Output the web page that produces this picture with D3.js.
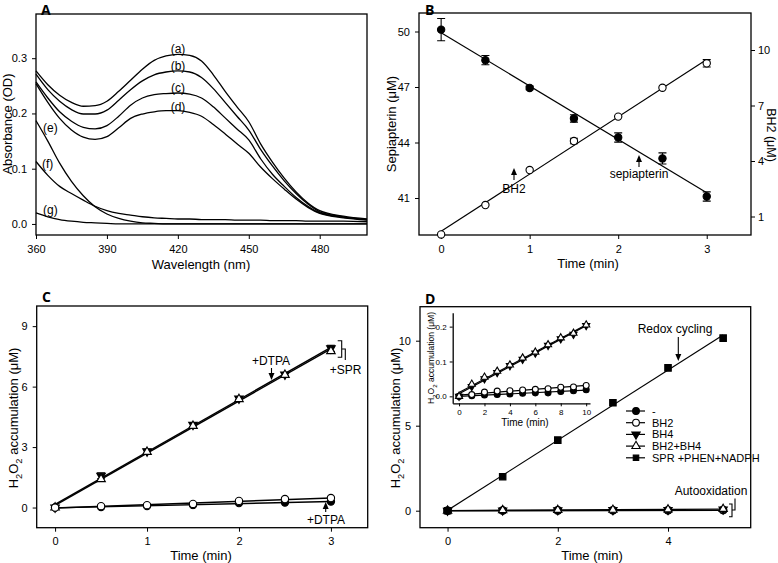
<!DOCTYPE html>
<html>
<head>
<meta charset="utf-8">
<script src="https://cdn.jsdelivr.net/npm/d3@7"></script>
<style>
  body { margin: 0; background: #fff; }
  text { font-family: "Liberation Sans", Arial, sans-serif; fill: #000; }
</style>
</head>
<body>
<script>
// ---- panel A: absorbance spectra ----
var wavelengths = [360, 365, 370, 375, 380, 385, 390, 395, 400, 405, 410, 415, 420, 425, 430, 435, 440, 445, 450, 455, 460, 465, 470, 475, 480, 490, 500];
var specA = [0.277, 0.252, 0.233, 0.220, 0.213, 0.214, 0.222, 0.240, 0.260, 0.280, 0.296, 0.304, 0.307, 0.305, 0.295, 0.270, 0.240, 0.212, 0.185, 0.145, 0.112, 0.083, 0.058, 0.038, 0.024, 0.014, 0.009];
var specB = [0.271, 0.243, 0.222, 0.207, 0.199, 0.199, 0.206, 0.224, 0.243, 0.259, 0.270, 0.275, 0.277, 0.275, 0.265, 0.245, 0.220, 0.195, 0.170, 0.135, 0.105, 0.078, 0.055, 0.036, 0.022, 0.013, 0.008];
var specC = [0.257, 0.228, 0.203, 0.186, 0.175, 0.172, 0.178, 0.195, 0.215, 0.228, 0.234, 0.236, 0.237, 0.235, 0.228, 0.212, 0.192, 0.172, 0.152, 0.118, 0.090, 0.068, 0.048, 0.032, 0.020, 0.012, 0.008];
var specD = [0.254, 0.220, 0.191, 0.170, 0.157, 0.153, 0.158, 0.174, 0.191, 0.199, 0.203, 0.205, 0.205, 0.202, 0.195, 0.180, 0.163, 0.145, 0.128, 0.103, 0.082, 0.063, 0.045, 0.030, 0.019, 0.011, 0.007];
var specE = [0.187, 0.150, 0.110, 0.077, 0.051, 0.031, 0.018, 0.010, 0.005, 0.002, 0.001, 0.000, 0.000, 0.000, 0.000, 0.000, 0.000, 0.000, 0.000, 0.000, 0.000, 0.000, 0.000, 0.000, 0.000, 0.000, 0.000];
var specF = [0.113, 0.088, 0.068, 0.055, 0.043, 0.032, 0.024, 0.019, 0.016, 0.013, 0.011, 0.010, 0.009, 0.009, 0.008, 0.008, 0.008, 0.007, 0.007, 0.007, 0.006, 0.006, 0.006, 0.005, 0.005, 0.005, 0.004];
var specG = [0.020, 0.013, 0.008, 0.005, 0.003, 0.002, 0.001, 0.000, 0.000, 0.000, 0.000, 0.000, 0.000, 0.000, 0.000, 0.000, 0.000, 0.000, 0.000, 0.000, 0.000, 0.000, 0.000, 0.000, 0.000, 0.000, 0.000];
var specLabels = ["(a)", "(b)", "(c)", "(d)", "(e)", "(f)", "(g)"];

// ---- panel B: sepiapterin / BH2 vs time ----
var timeB = [0, 0.5, 1, 1.5, 2, 2.5, 3];
var sepiapterin = [50.1, 48.45, 46.95, 45.3, 44.27, 43.14, 41.08];
var sepiapterinErr = [0.6, 0.25, 0.1, 0.2, 0.25, 0.3, 0.25];
var bh2 = [0.03, 1.62, 3.51, 5.08, 6.4, 7.96, 9.28];
var bh2Err = [0, 0, 0, 0.15, 0, 0, 0.2];

// ---- panel C: H2O2 accumulation ----
var timeC = [0, 0.5, 1, 1.5, 2, 2.5, 3];
var cSprBH4 = [0, 1.58, 2.79, 4.11, 5.41, 6.6, 7.9];
var cSprBH4Err = [0, 0.15, 0.1, 0.1, 0.05, 0.05, 0.15];
var cSprBH2BH4 = [0, 1.41, 2.76, 4.05, 5.38, 6.58, 7.76];
var cBH2 = [0, 0.07, 0.12, 0.18, 0.33, 0.42, 0.47];
var cMinus = [0, 0.03, 0.08, 0.13, 0.22, 0.25, 0.3];

// ---- panel D: redox cycling vs autooxidation ----
var timeD = [0, 1, 2, 3, 4, 5];
var dMinus = [0, 0, 0, 0.01, 0.01, 0.02];
var dBH2 = [0, 0.02, 0.03, 0.03, 0.04, 0.05];
var dBH4 = [0, 0.02, 0.03, 0.04, 0.05, 0.08];
var dBH2BH4 = [0, 0.03, 0.04, 0.05, 0.07, 0.1];
var dSPR = [0, 2.0, 4.15, 6.35, 8.4, 10.15];
var legendD = ["-", "BH2", "BH4", "BH2+BH4", "SPR +PHEN+NADPH"];

// inset of D
var timeInset = [0, 1, 2, 3, 4, 5, 6, 7, 8, 9, 10];
var inMinus = [0, 0.002, 0.004, 0.005, 0.007, 0.009, 0.01, 0.01, 0.014, 0.016, 0.019];
var inBH2 = [0, 0.005, 0.012, 0.015, 0.016, 0.018, 0.02, 0.022, 0.026, 0.027, 0.031];
var inBH4 = [0, 0.028, 0.05, 0.068, 0.088, 0.106, 0.124, 0.146, 0.165, 0.178, 0.203];
var inBH2BH4 = [0, 0.035, 0.055, 0.072, 0.09, 0.11, 0.127, 0.148, 0.168, 0.181, 0.205];

var svg = d3.select("body").append("svg")
    .attr("width", 778)
    .attr("height", 563);

// least squares line through a series
function fit(xs, ys) {
    var mx = d3.mean(xs), my = d3.mean(ys);
    var sxy = d3.sum(xs, function(v, i) { return (v - mx) * (ys[i] - my); });
    var sxx = d3.sum(xs, function(v) { return (v - mx) * (v - mx); });
    var b = sxy / sxx;
    return [my - b * mx, b];
}

function frame(g, x, y) {
    g.append("rect")
        .attr("x", x.range()[0])
        .attr("y", y.range()[1])
        .attr("width", x.range()[1] - x.range()[0])
        .attr("height", y.range()[0] - y.range()[1])
        .attr("fill", "none")
        .attr("stroke", "#000")
        .attr("stroke-width", 1.3);
}

function styleAxis(sel, size, keepDomain) {
    if (!keepDomain) sel.select(".domain").remove();
    else sel.select(".domain").attr("stroke-width", 1.3);
    sel.selectAll("text").style("font-size", size + "px");
}

function bottomAxis(g, x, y, ticks, fmt, size, keepDomain, tick, pad) {
    g.append("g")
        .attr("transform", "translate(0," + y.range()[0] + ")")
        .call(d3.axisBottom(x).tickValues(ticks).tickFormat(fmt).tickSize(tick || 4).tickSizeOuter(0).tickPadding(pad || 6))
        .call(styleAxis, size, keepDomain);
}

function leftAxis(g, x, y, ticks, fmt, size, keepDomain, tick, pad) {
    g.append("g")
        .attr("transform", "translate(" + x.range()[0] + ",0)")
        .call(d3.axisLeft(y).tickValues(ticks).tickFormat(fmt).tickSize(tick || 4).tickSizeOuter(0).tickPadding(pad || 5))
        .call(styleAxis, size, keepDomain);
}

function label(g, txt, x, y, size, rot, anchor) {
    var t = g.append("text")
        .attr("transform", "translate(" + x + "," + y + ")" + (rot ? " rotate(" + rot + ")" : ""))
        .style("font-size", size + "px")
        .style("text-anchor", anchor || "middle")
        .text(txt);
    return t;
}

// H2O2 label with subscripts
function h2o2Label(g, x, y, size) {
    var t = g.append("text")
        .attr("transform", "translate(" + x + "," + y + ") rotate(-90)")
        .style("font-size", size + "px")
        .style("text-anchor", "middle");
    t.append("tspan").text("H");
    t.append("tspan").attr("dy", size * 0.3).style("font-size", (size * 0.72) + "px").text("2");
    t.append("tspan").attr("dy", -size * 0.3).text("O");
    t.append("tspan").attr("dy", size * 0.3).style("font-size", (size * 0.72) + "px").text("2");
    t.append("tspan").attr("dy", -size * 0.3).text(" accumulation (\u03bcM)");
}

function panelLetter(txt, x, y) {
    svg.append("text")
        .attr("x", x).attr("y", y)
        .style("font-family", "'Open Sans', 'Liberation Sans', sans-serif")
        .style("font-weight", "bold")
        .style("font-size", "14px")
        .text(txt);
}

var symbols = {
    fc: { type: d3.symbolCircle, fill: "#000", rot: 0 },
    oc: { type: d3.symbolCircle, fill: "#fff", rot: 0 },
    dt: { type: d3.symbolTriangle, fill: "#000", rot: 180 },
    ot: { type: d3.symbolTriangle, fill: "#fff", rot: 0 },
    fs: { type: d3.symbolSquare, fill: "#000", rot: 0 }
};

function marks(g, xs, ys, kind, x, y, size) {
    var s = symbols[kind];
    g.selectAll(null)
        .data(xs)
        .enter()
        .append("path")
            .attr("d", d3.symbol().type(s.type).size(size))
            .attr("transform", function(d, i) { return "translate(" + x(d) + "," + y(ys[i]) + ") rotate(" + s.rot + ")"; })
            .attr("fill", s.fill)
            .attr("stroke", "#000")
            .attr("stroke-width", 1.1);
}

function fitLine(g, xs, ys, x, y, width) {
    var c = fit(xs, ys);
    var x0 = d3.min(xs), x1 = d3.max(xs);
    g.append("line")
        .attr("x1", x(x0)).attr("y1", y(c[0] + c[1] * x0))
        .attr("x2", x(x1)).attr("y2", y(c[0] + c[1] * x1))
        .attr("stroke", "#000")
        .attr("stroke-width", width || 1.2);
}

function errBars(g, xs, ys, errs, x, y) {
    xs.forEach(function(d, i) {
        if (!errs[i]) return;
        var px = x(d), lo = y(ys[i] - errs[i]), hi = y(ys[i] + errs[i]);
        g.append("path")
            .attr("d", "M" + px + "," + lo + "V" + hi + "M" + (px - 4) + "," + lo + "H" + (px + 4) + "M" + (px - 4) + "," + hi + "H" + (px + 4))
            .attr("fill", "none")
            .attr("stroke", "#000")
            .attr("stroke-width", 1.1);
    });
}

function arrow(g, x, yFrom, yTo) {
    var dir = yTo > yFrom ? 1 : -1;
    g.append("line")
        .attr("x1", x).attr("y1", yFrom)
        .attr("x2", x).attr("y2", yTo - dir * 5)
        .attr("stroke", "#000").attr("stroke-width", 1.1);
    g.append("path")
        .attr("d", "M" + (x - 3) + "," + (yTo - dir * 7) + "L" + (x + 3) + "," + (yTo - dir * 7) + "L" + x + "," + yTo + "Z")
        .attr("fill", "#000");
}

// ================= Panel A =================
var gA = svg.append("g");
var xA = d3.scaleLinear().domain([360, 500]).range([36, 367]);
var yA = d3.scaleLinear().domain([-0.02, 0.38]).range([235, 14]);
bottomAxis(gA, xA, yA, [360, 390, 420, 450, 480], d3.format("d"), 11);
leftAxis(gA, xA, yA, [0, 0.1, 0.2, 0.3], d3.format(".1f"), 11);
frame(gA, xA, yA);

var spectra = [specA, specB, specC, specD, specE, specF, specG];
var specLine = d3.line()
    .x(function(d, i) { return xA(wavelengths[i]); })
    .y(function(d) { return yA(d); })
    .curve(d3.curveMonotoneX);
gA.selectAll(".spec")
    .data(spectra)
    .enter()
    .append("path")
        .attr("class", "spec")
        .attr("d", specLine)
        .attr("fill", "none")
        .attr("stroke", "#000")
        .attr("stroke-width", 1.3);

// curve tags
var tagPos = [[178, 53], [178, 70], [178, 92], [178, 111], [43, 132], [42, 168], [43, 214]];
specLabels.forEach(function(t, i) {
    label(gA, t, tagPos[i][0], tagPos[i][1], 12, 0, i < 4 ? "middle" : "start");
});

label(gA, "Wavelength (nm)", 201, 269, 13);
label(gA, "Absorbance (OD)", 12, 124, 13, -90);
panelLetter("A", 41, 15);

// ================= Panel B =================
var gB = svg.append("g");
var xB = d3.scaleLinear().domain([-0.25, 3.5]).range([419, 751]);
var yBL = d3.scaleLinear().domain([39, 51]).range([235, 13]);
var yBR = d3.scaleLinear().domain([0, 12]).range([235, 13]);
bottomAxis(gB, xB, yBL, [0, 1, 2, 3], d3.format("d"), 11);
leftAxis(gB, xB, yBL, [41, 44, 47, 50], d3.format("d"), 11);
gB.append("g")
    .attr("transform", "translate(751,0)")
    .call(d3.axisRight(yBR).tickValues([1, 4, 7, 10]).tickFormat(d3.format("d")).tickSize(4).tickSizeOuter(0).tickPadding(3))
    .call(styleAxis, 11);
frame(gB, xB, yBL);

fitLine(gB, timeB, sepiapterin, xB, yBL);
fitLine(gB, timeB, bh2, xB, yBR);
errBars(gB, timeB, sepiapterin, sepiapterinErr, xB, yBL);
errBars(gB, timeB, bh2, bh2Err, xB, yBR);
marks(gB, timeB, sepiapterin, "fc", xB, yBL, 42);
marks(gB, timeB, bh2, "oc", xB, yBR, 42);

arrow(gB, 514, 180, 168);
label(gB, "BH2", 514, 193, 12);
arrow(gB, 639, 167, 155);
label(gB, "sepiapterin", 639, 178, 12);

label(gB, "Time (min)", 588, 268, 13);
label(gB, "Sepiapterin (\u03bcM)", 396, 124, 13, -90);
label(gB, "BH2 (\u03bcM)", 767, 135, 12.5, 90);
panelLetter("B", 425, 15);

// ================= Panel C =================
var gC = svg.append("g");
var xC = d3.scaleLinear().domain([-0.2, 3.4]).range([36.7, 367.7]);
var yC = d3.scaleLinear().domain([-1, 10]).range([527.7, 306]);
bottomAxis(gC, xC, yC, [0, 1, 2, 3], d3.format("d"), 11);
leftAxis(gC, xC, yC, [0, 3, 6, 9], d3.format("d"), 11);
frame(gC, xC, yC);

fitLine(gC, timeC, cSprBH4, xC, yC, 1.4);
fitLine(gC, timeC, cSprBH2BH4, xC, yC, 1.4);
fitLine(gC, timeC, cBH2, xC, yC, 1.4);
fitLine(gC, timeC, cMinus, xC, yC, 1.4);
errBars(gC, timeC, cSprBH4, cSprBH4Err, xC, yC);
marks(gC, timeC, cSprBH4, "dt", xC, yC, 32);
marks(gC, timeC, cSprBH2BH4, "ot", xC, yC, 32);
marks(gC, timeC, cMinus, "fc", xC, yC, 42);
marks(gC, timeC, cBH2, "oc", xC, yC, 42);

label(gC, "+DTPA", 271, 365, 12);
arrow(gC, 271.5, 368, 380);
gC.append("path")
    .attr("d", "M337.7,340.7H341.7V357.3H337.7M341.7,349H345.3V360")
    .attr("fill", "none").attr("stroke", "#000").attr("stroke-width", 1.1);
label(gC, "+SPR", 345.5, 374, 12);
arrow(gC, 325.7, 512, 502);
label(gC, "+DTPA", 326, 524, 12);

label(gC, "Time (min)", 201, 560, 13);
h2o2Label(gC, 18, 418, 13);
panelLetter("C", 42, 302);

// ================= Panel D =================
var gD = svg.append("g");
var xD = d3.scaleLinear().domain([-0.5, 5.5]).range([420, 750.7]);
var yD = d3.scaleLinear().domain([-1, 12]).range([527.7, 306.7]);
bottomAxis(gD, xD, yD, [0, 2, 4], d3.format("d"), 11);
leftAxis(gD, xD, yD, [0, 5, 10], d3.format("d"), 11);
frame(gD, xD, yD);

fitLine(gD, timeD, dSPR, xD, yD);
fitLine(gD, timeD, dMinus, xD, yD, 1.4);
fitLine(gD, timeD, dBH2BH4, xD, yD, 1.4);
marks(gD, timeD, dMinus, "fc", xD, yD, 40);
marks(gD, timeD, dBH2, "oc", xD, yD, 40);
marks(gD, timeD, dBH4, "dt", xD, yD, 30);
marks(gD, timeD, dBH2BH4, "ot", xD, yD, 30);
marks(gD, timeD, dSPR, "fs", xD, yD, 42);

label(gD, "Redox cycling", 675, 333, 12);
arrow(gD, 678.3, 337, 361);
label(gD, "Autooxidation", 711, 495, 12);
gD.append("path")
    .attr("d", "M729,504H732V516.7H729M732,510H735V498.5")
    .attr("fill", "none").attr("stroke", "#000").attr("stroke-width", 1.1);

// legend
var legKinds = ["fc", "oc", "dt", "ot", "fs"];
legendD.forEach(function(name, i) {
    var ly = 411 + i * 11.7;
    gD.append("line")
        .attr("x1", 626).attr("x2", 645)
        .attr("y1", ly).attr("y2", ly)
        .attr("stroke", "#000").attr("stroke-width", 1.2);
    marks(gD, [0], [0], legKinds[i], function() { return 636; }, function() { return ly; }, legKinds[i] == "fc" || legKinds[i] == "oc" ? 36 : 30);
    label(gD, name, 652, ly + 4, 11, 0, "start");
});

label(gD, "Time (min)", 592, 560, 13);
h2o2Label(gD, 400, 418, 13);
panelLetter("D", 425, 304);

// ---- inset ----
var gI = svg.append("g");
var xI = d3.scaleLinear().domain([-0.5, 10.3]).range([452.7, 590]);
var yI = d3.scaleLinear().domain([-0.02, 0.24]).range([403.3, 312.7]);
bottomAxis(gI, xI, yI, [0, 2, 4, 6, 8, 10], d3.format("d"), 8, true, 3, 3);
leftAxis(gI, xI, yI, [0, 0.1, 0.2], d3.format(".1f"), 8, true, 3, 3);

fitLine(gI, timeInset, inBH4, xI, yI, 1.2);
fitLine(gI, timeInset, inBH2BH4, xI, yI, 1.2);
fitLine(gI, timeInset, inBH2, xI, yI, 1.2);
fitLine(gI, timeInset, inMinus, xI, yI, 1.2);
marks(gI, timeInset, inMinus, "fc", xI, yI, 28);
marks(gI, timeInset, inBH2, "oc", xI, yI, 28);
marks(gI, timeInset, inBH4, "dt", xI, yI, 22);
marks(gI, timeInset, inBH2BH4, "ot", xI, yI, 22);

label(gI, "Time (min)", 525, 426, 10);
h2o2Label(gI, 434, 358, 8.5);
</script>
</body>
</html>
